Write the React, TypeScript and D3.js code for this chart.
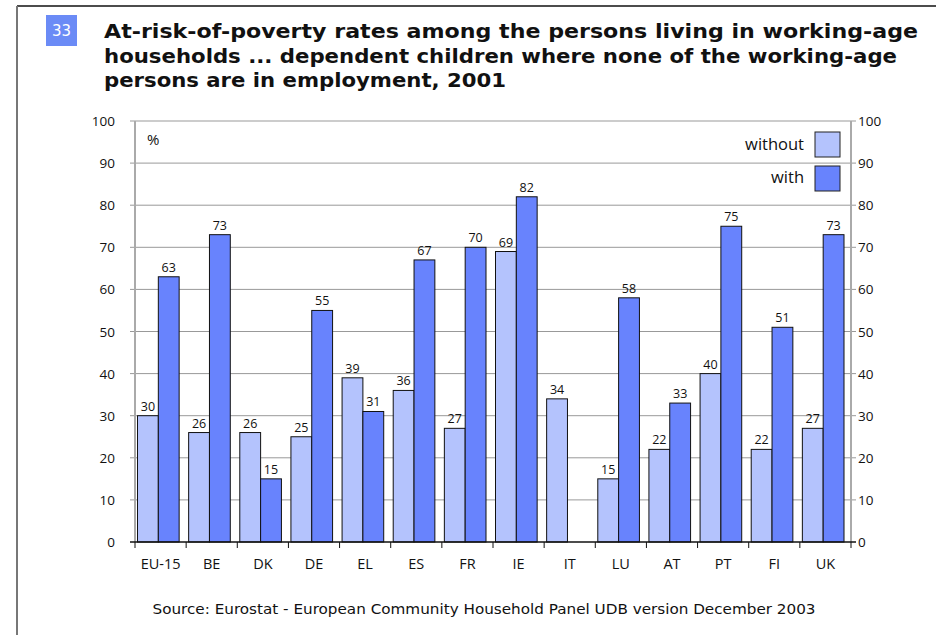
import React from "react";
import * as d3 from "d3";

const categories = ["EU-15", "BE", "DK", "DE", "EL", "ES", "FR", "IE", "IT", "LU", "AT", "PT", "FI", "UK"];
const withoutValues: (number | null)[] = [30, 26, 26, 25, 39, 36, 27, 69, 34, 15, 22, 40, 22, 27];
const withValues: (number | null)[] = [63, 73, 15, 55, 31, 67, 70, 82, null, 58, 33, 75, 51, 73];
const seriesNames = ["without", "with"];
const yTicks = [0, 10, 20, 30, 40, 50, 60, 70, 80, 90, 100];
const titleLines = [
  "At-risk-of-poverty rates among the persons living in working-age",
  "households ... dependent children where none of the working-age",
  "persons are in employment, 2001",
];
const titleWidths = [814, 793, 402];
const sourceText = "Source: Eurostat - European Community Household Panel UDB version December 2003";

const W = 936, H = 635;
const plot = { left: 135, right: 851, top: 121, bottom: 542 };
const colors: Record<string, string> = { without: "#b4c3fd", with: "#6883fd" };
const numFont = "'Open Sans', 'Noto Sans', sans-serif";
const titleFont = "'DejaVu Sans', Verdana, sans-serif";

export default function App() {
  const x = d3.scaleBand<string>().domain(categories).range([plot.left, plot.right]).padding(0);
  const bw = x.bandwidth();
  const inner = d3.scaleBand<string>().domain(seriesNames).range([2.5, bw - 7]).padding(0);
  const y = d3.scaleLinear().domain([0, 100]).range([plot.bottom, plot.top]);
  const data = [withoutValues, withValues];

  return (
    <svg width={W} height={H} style={{ position: "absolute", left: 0, top: 0, background: "#fff" }}>
      {/* frame */}
      <line x1={17} y1={6} x2={W} y2={6} stroke="#111" strokeWidth={1.5} />
      <line x1={17} y1={6} x2={17} y2={H} stroke="#777" strokeWidth={2} />
      {/* badge */}
      <rect x={46} y={15} width={31} height={31} fill="#6b8bf6" />
      <text x={61.5} y={36} textAnchor="middle" fill="#fff" fontFamily={titleFont} fontSize={15}>33</text>
      {titleLines.map((t, i) => (
        <text key={i} x={104} y={38 + i * 24.5} fontFamily={titleFont} fontWeight="bold" fontSize={20} fill="#111"
          textLength={titleWidths[i]} lengthAdjust="spacingAndGlyphs">{t}</text>
      ))}
      {/* gridlines */}
      {yTicks.map((t) => (
        <g key={t}>
          {t > 0 && <line x1={plot.left - 5} x2={plot.right + 5} y1={y(t)} y2={y(t)} stroke="#999" strokeWidth={1} />}
          <text x={115} y={y(t) + 5} textAnchor="end" fontFamily={numFont} fontSize={13.5} fill="#111">{t}</text>
          <text x={858} y={y(t) + 5} textAnchor="start" fontFamily={numFont} fontSize={13.5} fill="#111">{t}</text>
        </g>
      ))}
      <line x1={plot.left} x2={plot.left} y1={plot.top} y2={plot.bottom} stroke="#aaa" strokeWidth={2} />
      <line x1={plot.right} x2={plot.right} y1={plot.top} y2={plot.bottom} stroke="#aaa" strokeWidth={2} />
      <text x={147} y={145} fontFamily={numFont} fontSize={15} fill="#111">%</text>
      {/* bars */}
      {categories.map((c, ci) => (
        <g key={c}>
          {seriesNames.map((s, si) => {
            const v = data[si][ci];
            if (v == null) return null;
            const bx = (x(c) as number) + (inner(s) as number);
            const iw = inner.bandwidth();
            return (
              <g key={s}>
                <rect x={bx} y={y(v)} width={iw} height={y(0) - y(v)} fill={colors[s]} stroke="#111" strokeWidth={1} />
                <text x={bx + iw / 2} y={y(v) - 5} textAnchor="middle" fontFamily={numFont} fontSize={12.5} fill="#111">{v}</text>
              </g>
            );
          })}
          <text x={(x(c) as number) + bw / 2} y={569} textAnchor="middle" fontFamily={numFont} fontSize={14.5} fill="#111">{c}</text>
        </g>
      ))}
      {/* x axis */}
      <line x1={plot.left - 5} x2={plot.right + 5} y1={plot.bottom} y2={plot.bottom} stroke="#111" strokeWidth={1.5} />
      {categories.concat(["end"]).map((c, i) => {
        const xx = plot.left + i * bw;
        return <line key={i} x1={xx} x2={xx} y1={plot.bottom} y2={plot.bottom + 6} stroke="#111" strokeWidth={1} />;
      })}
      {/* legend */}
      {seriesNames.map((s, i) => (
        <g key={s}>
          <rect x={815} y={132 + i * 34} width={25} height={25} fill={colors[s]} stroke="#222" strokeWidth={1} />
          <text x={804} y={150 + i * 33} textAnchor="end" fontFamily={numFont} fontSize={16.5} fill="#111">{s}</text>
        </g>
      ))}
      <text x={484} y={614} textAnchor="middle" fontFamily={titleFont} fontSize={14} fill="#111"
        textLength={663} lengthAdjust="spacingAndGlyphs">{sourceText}</text>
    </svg>
  );
}
